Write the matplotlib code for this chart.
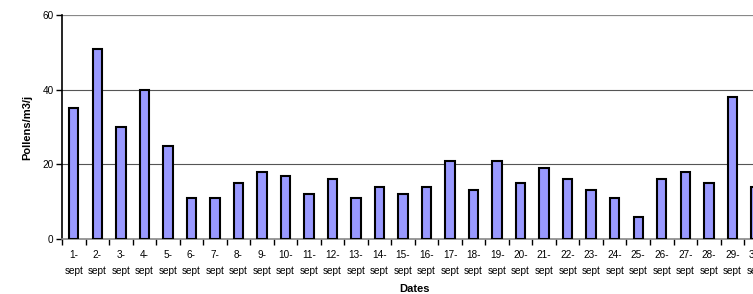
import matplotlib.pyplot as plt
import numpy as np

days = [f"{d}-\nsept" for d in range(1, 31)]
pollens = [35, 51, 30, 40, 25, 11, 11, 15, 18, 17, 12, 16, 11, 14, 12,
           14, 21, 13, 21, 15, 19, 16, 13, 11, 6, 16, 18, 15, 38, 14]
yticks = [0, 20, 40, 60]

plt.rcParams['font.family'] = ['Liberation Sans', 'DejaVu Sans']

fig = plt.figure(figsize=(7.53, 2.94), dpi=100)
# plot area is wider than the picture: the chart is cut off on the right
ax = fig.add_axes([62 / 753, 55 / 294, 705.6 / 753, 224 / 294])

x = np.arange(len(days))
ax.bar(x, pollens, width=0.4, color='#9999FF', edgecolor='black',
       linewidth=1.5, zorder=3)

ax.set_xlim(-0.5, len(days) - 0.5)
ax.set_ylim(0, 60)

for v in [20, 40]:
    ax.axhline(v, color='#555555', linewidth=0.8, zorder=1)
ax.axhline(60, color='#888888', linewidth=1.6, zorder=1)

ax.set_yticks(yticks)
ax.set_yticklabels([str(v) for v in yticks], fontsize=7.2)
ax.set_xticks(x)
ax.set_xticklabels(days, fontsize=7.2, linespacing=1.75)
ax.set_xticks(np.arange(-0.5, len(days), 1), minor=True)
ax.tick_params(axis='x', which='major', length=0, pad=8)
ax.tick_params(axis='x', which='minor', length=4, width=1, color='black')
ax.tick_params(axis='y', length=4, width=1, pad=2)

for s in ['top', 'right']:
    ax.spines[s].set_visible(False)
ax.spines['left'].set_linewidth(1.2)
ax.spines['bottom'].set_color('#888888')
ax.spines['bottom'].set_linewidth(1.2)

ax.set_xlabel("Dates", fontsize=8, fontweight='bold', labelpad=6)
ax.set_ylabel("Pollens/m3/j", fontsize=8, fontweight='bold', labelpad=7)

fig.savefig("out.png", dpi=100)
